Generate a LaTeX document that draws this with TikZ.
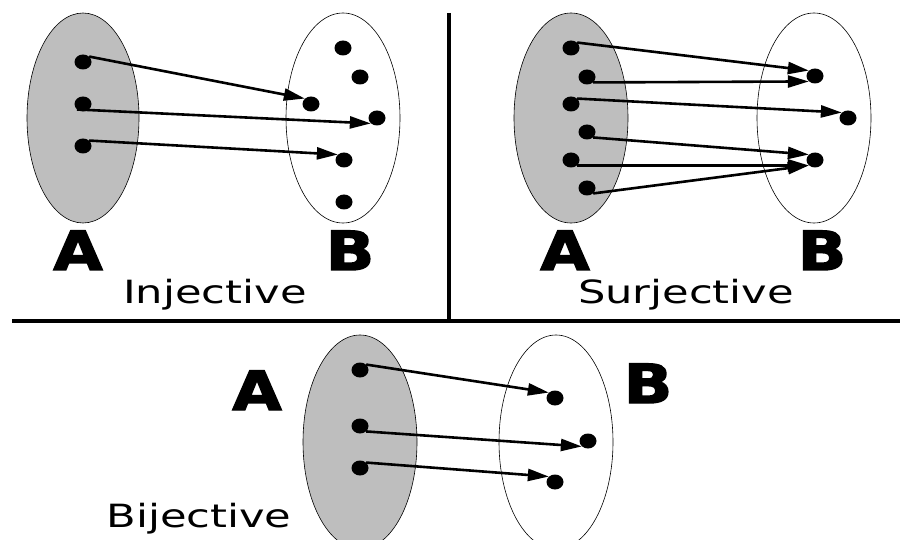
\documentclass[tikz,border=0pt]{standalone}
\usepackage{fontspec}
\usetikzlibrary{positioning}
\usetikzlibrary{arrows.meta}
\usetikzlibrary{shapes.geometric}
\newfontfamily\heavyfont[BoldFeatures={FakeBold=2.5}]{DejaVu Sans}
\newfontfamily\handfont{DejaVu Sans}
\definecolor{setgray}{RGB}{190,190,190}

\begin{document}
\begin{tikzpicture}[x=1pt, y=-1pt,
    dot/.style={ellipse, fill=black, inner sep=0pt, minimum width=17pt, minimum height=15pt},
    maparrow/.style={line width=2.6pt, -{Triangle[length=21pt, width=12pt]}},
    setname/.style={anchor=base, inner sep=0pt, xscale=1.18, font=\heavyfont\bfseries\fontsize{54}{54}\selectfont},
    kind/.style={anchor=base, inner sep=0pt, xscale=1.35, font=\handfont\fontsize{32}{32}\selectfont}]
    \useasboundingbox (0,0) rectangle (900,540);

    % dividers
    \draw[line width=4pt] (12,321) -- (900,321);
    \draw[line width=4pt] (449,13) -- (449,321);

    % injective
    \draw[fill=setgray, draw=black, line width=0.6pt] (83,118) ellipse [x radius=56pt, y radius=105pt];
    \draw[draw=black, line width=0.6pt] (343,118) ellipse [x radius=57pt, y radius=105pt];
    \foreach \n/\x/\y in {1/83/62, 2/83/104, 3/83/146} {
        \node[dot] (ia\n) at (\x,\y) {};
    }
    \foreach \n/\x/\y in {1/343/48, 2/360/77, 3/311/104, 4/377/118, 5/344/160, 6/344/202} {
        \node[dot] (ib\n) at (\x,\y) {};
    }
    \draw[maparrow] (ia1.north east) -- (ib3.north west);
    \draw[maparrow] (ia2.south west) -- (ib4.south west);
    \draw[maparrow] (ia3.north east) -- (ib5.north west);
    \node[setname] (inA) at (78,270) {A};
    \node[setname] (inB) at (350,270) {B};
    \node[kind] (inj) at (215,304) {Injective};

    % surjective
    \draw[fill=setgray, draw=black, line width=0.6pt] (571,118) ellipse [x radius=57pt, y radius=105pt];
    \draw[draw=black, line width=0.6pt] (814,118) ellipse [x radius=57pt, y radius=105pt];
    \foreach \n/\x/\y in {1/571/48, 2/587/77, 3/571/104, 4/587/132, 5/571/160, 6/587/188} {
        \node[dot] (sa\n) at (\x,\y) {};
    }
    \foreach \n/\x/\y in {1/815/76, 2/848/118, 3/815/160} {
        \node[dot] (sb\n) at (\x,\y) {};
    }
    \draw[maparrow] (sa1.north east) -- (sb1.north west);
    \draw[maparrow] (sa2.south east) -- (sb1.south west);
    \draw[maparrow] (sa3.north east) -- (sb2.north west);
    \draw[maparrow] (sa4.south east) -- (sb3.north west);
    \draw[maparrow] (sa5.south east) -- (sb3.south west);
    \draw[maparrow] (sa6.south east) -- (sb3.south west);
    \node[setname] (suA) at (565,270) {A};
    \node[setname] (suB) at (822,270) {B};
    \node[kind] (sur) at (686,303) {Surjective};

    % bijective
    \draw[fill=setgray, draw=black, line width=0.6pt] (360,442) ellipse [x radius=57pt, y radius=107pt];
    \draw[draw=black, line width=0.6pt] (556,442) ellipse [x radius=57pt, y radius=107pt];
    \foreach \n/\x/\y in {1/360/370, 2/360/426, 3/360/468} {
        \node[dot] (ba\n) at (\x,\y) {};
    }
    \foreach \n/\x/\y in {1/555/398, 2/588/441, 3/555/482} {
        \node[dot] (bb\n) at (\x,\y) {};
    }
    \draw[maparrow] (ba1.north east) -- (bb1.north west);
    \draw[maparrow] (ba2.south east) -- (bb2.south west);
    \draw[maparrow] (ba3.north east) -- (bb3.north west);
    \node[setname] (biA) at (257,410) {A};
    \node[setname] (biB) at (648,403) {B};
    \node[kind] (bij) at (199,527) {Bijective};
\end{tikzpicture}
\end{document}
